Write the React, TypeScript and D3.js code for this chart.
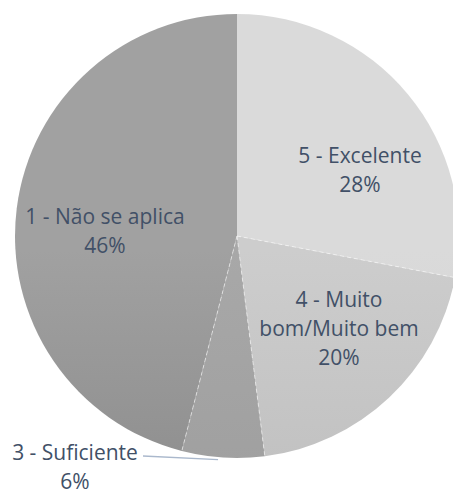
import React from "react";
import * as d3 from "d3";

const categories = ["5 - Excelente", "4 - Muito bom/Muito bem", "3 - Suficiente", "1 - Não se aplica"];
const values = [28, 20, 6, 46];
const labelLines = [["5 - Excelente", "28%"], ["4 - Muito", "bom/Muito bem", "20%"], ["3 - Suficiente", "6%"], ["1 - Não se aplica", "46%"]];
const topColors = ["#dadada", "#cdcdcd", "#a8a8a8", "#a1a1a1"];
const bottomColors = ["#cbcbcb", "#b6b6b6", "#989898", "#7e7e7e"];

const W = 453, H = 493;
const cx = 237, cy = 236, R = 222;
// label block centres (layout, baseline midpoints)
const labelCentres = [[360, 177], [339, 336], [75, 474], [105, 238]];

export default function App() {
  const pie = d3.pie<number>().sort(null).value((d) => d);
  const arcs = pie(values);
  const arc = d3.arc<d3.PieArcDatum<number>>().innerRadius(0).outerRadius(R);
  const lineH = 29;
  const fs = 21;
  const font = "'Open Sans', sans-serif";
  const color = "#415067";
  return (
    <svg width={W} height={H} style={{ position: "absolute", left: 0, top: 0, background: "#fff" }} fontFamily={font}>
      <defs>
        {categories.map((c, i) => (
          <linearGradient key={c} id={`g${i}`} gradientUnits="userSpaceOnUse" x1={0} y1={cy - R} x2={0} y2={cy + R}>
            <stop offset="0%" stopColor={topColors[i]} />
            <stop offset="100%" stopColor={bottomColors[i]} />
          </linearGradient>
        ))}
      </defs>
      <g transform={`translate(${cx},${cy})`}>
        {arcs.map((a, i) => (
          <path key={categories[i]} d={arc(a) || ""} fill={`url(#g${i})`} />
        ))}
        {arcs.map((a, i) => {
          const ang = a.startAngle;
          if (i === 0) return null;
          return (
            <line key={"s" + i} x1={0} y1={0} x2={R * Math.sin(ang)} y2={-R * Math.cos(ang)}
              stroke="#ffffff" strokeOpacity={0.55} strokeWidth={1} strokeDasharray="4,3" />
          );
        })}
      </g>
      {arcs.map((a, i) => {
        const lines = labelLines[i];
        const [lx, ly] = labelCentres[i];
        const n = lines.length;
        let leader = null;
        if (i === 2) {
          const mid = (a.startAngle + a.endAngle) / 2;
          const ex = cx + R * Math.sin(mid) - 5;
          const ey = cy - R * Math.cos(mid) + 2;
          leader = <polyline points={`143,456 ${ex},${ey}`} fill="none" stroke="#aab8cc" strokeWidth={1.3} />;
        }
        return (
          <g key={"l" + i}>
            {leader}
            {lines.map((t, j) => (
              <text key={j} x={lx} y={ly + (j - (n - 1) / 2) * lineH} textAnchor="middle" fontSize={fs} fill={color}>{t}</text>
            ))}
          </g>
        );
      })}
    </svg>
  );
}
